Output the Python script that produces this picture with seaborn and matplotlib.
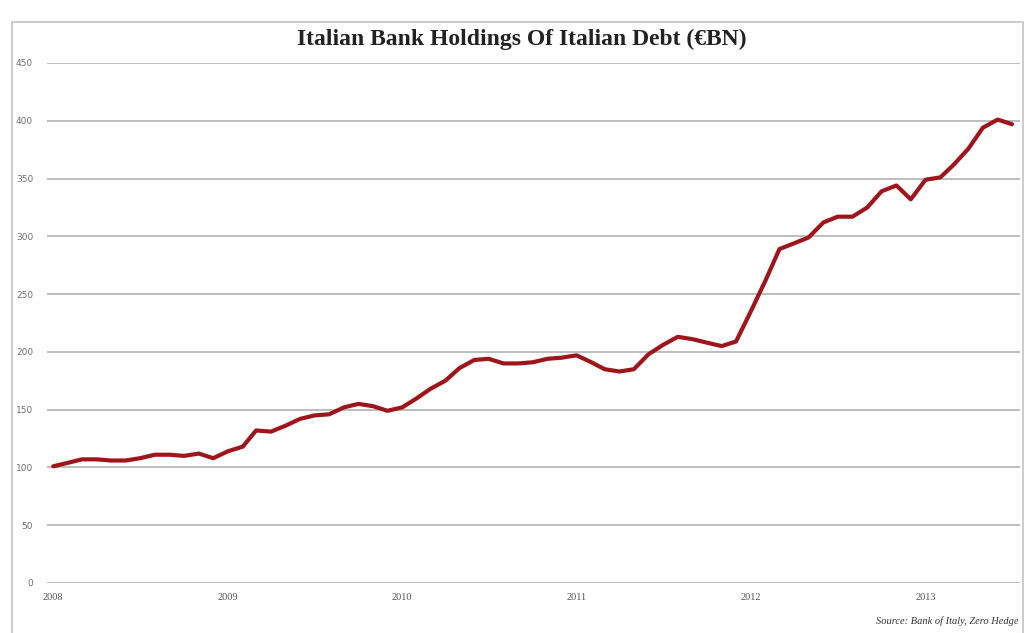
import matplotlib
matplotlib.use("Agg")
import matplotlib.dates as mdates
import matplotlib.pyplot as plt
import pandas as pd
import seaborn as sns
from matplotlib.patches import Rectangle

# monthly holdings, EUR bn, Jan 2008 - Jul 2013
START_MONTH = "2008-01-01"
holdings_2008 = [101, 104, 107, 107, 106, 106, 108, 111, 111, 110, 112, 108]
holdings_2009 = [114, 118, 132, 131, 136, 142, 145, 146, 152, 155, 153, 149]
holdings_2010 = [152, 160, 168, 175, 186, 193, 194, 190, 190, 191, 194, 195]
holdings_2011 = [197, 191, 185, 183, 185, 198, 206, 213, 211, 208, 205, 209]
holdings_2012 = [235, 262, 289, 294, 299, 312, 317, 317, 325, 339, 344, 332]
holdings_2013 = [349, 351, 362, 376, 394, 401, 397]

y_ticks = [0, 50, 100, 150, 200, 250, 300, 350, 400, 450]
title = "Italian Bank Holdings Of Italian Debt (€BN)"
source = "Source: Bank of Italy, Zero Hedge"

values = (holdings_2008 + holdings_2009 + holdings_2010
          + holdings_2011 + holdings_2012 + holdings_2013)
df = pd.DataFrame({
    "month": pd.date_range(START_MONTH, periods=len(values), freq="MS"),
    "holdings": values,
})

sns.set_theme(style="white")

fig = plt.figure(figsize=(10.26, 6.33), dpi=100)
ax = fig.add_axes([0.0458, 0.079, 0.948, 0.8215])

sns.lineplot(data=df, x="month", y="holdings", ax=ax,
             color="#9e161c", linewidth=3.0, zorder=3)

ax.set_ylim(0, 450)
ax.set_yticks(y_ticks)
ax.set_xlim(pd.Timestamp("2007-12-19"), pd.Timestamp("2013-07-17"))
ax.xaxis.set_major_locator(mdates.YearLocator())
ax.xaxis.set_major_formatter(mdates.DateFormatter("%Y"))

ax.grid(axis="y", color="#ababab", linewidth=1.1)
ax.grid(axis="x", visible=False)
for s in ax.spines.values():
    s.set_visible(False)
ax.set_xlabel("")
ax.set_ylabel("")

ax.tick_params(axis="y", length=0, pad=10, labelsize=6.5, labelcolor="#707070")
ax.tick_params(axis="x", length=0, pad=7, labelsize=7.5, labelcolor="#555555")
for lbl in ax.get_xticklabels():
    lbl.set_family("Liberation Serif")

fig.text(0.509, 0.937, title, ha="center", va="center",
         family="Liberation Serif", fontweight="bold", fontsize=17, color="#222222")
fig.text(0.993, 0.018, source, ha="right", va="center",
         family="Liberation Serif", style="italic", fontsize=7.5, color="#333333")

# thin outer frame of the original graphic
fig.patches.append(Rectangle((12 / 1026, -0.01), (1023 - 12) / 1026, 1 - 22 / 633 + 0.01,
                             transform=fig.transFigure, fill=False,
                             edgecolor="#c4c4c4", linewidth=1.2))

fig.savefig("out.png", dpi=100)
plt.close(fig)
